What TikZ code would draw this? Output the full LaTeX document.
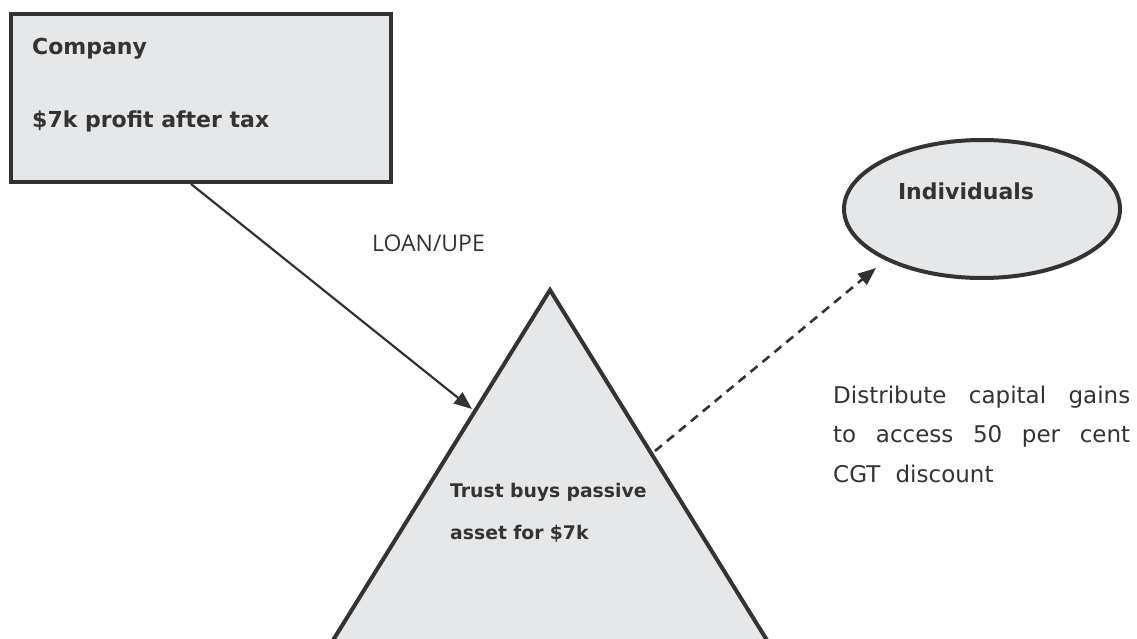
\documentclass[tikz,border=0pt]{standalone}
\usepackage{fontspec}
\setmainfont{DejaVu Sans}
\newfontfamily\loanfont{Open Sans}
\usetikzlibrary{arrows.meta,shapes.geometric}
\definecolor{boxfill}{HTML}{E6E7E8}
\definecolor{ink}{HTML}{333333}
\begin{document}
\begin{tikzpicture}[x=1pt,y=-1pt,
  shapeline/.style={draw=ink,line width=4pt,fill=boxfill,line join=miter},
  boldtext/.style={text=ink,inner sep=0pt,font=\fontsize{22}{26}\selectfont\bfseries},
  trusttext/.style={text=ink,inner sep=0pt,align=left,text width=220pt,font=\fontsize{18.8}{42}\selectfont\bfseries},
  plaintext/.style={text=ink,inner sep=0pt},
  solidarrow/.style={draw=ink,line width=2.2pt,-{Triangle[length=18pt,width=14pt]}},
  dasharrow/.style={draw=ink,line width=2.6pt,dash pattern=on 9pt off 6.5pt,-{Triangle[length=18pt,width=14pt]}}
]
\useasboundingbox (0,0) rectangle (1137,639);
\fill[white] (0,0) rectangle (1137,639);

% Company box
\node[shapeline, rectangle, minimum width=380pt, minimum height=168pt, inner sep=0pt] (company) at (201,98) {};
\node[boldtext, anchor=base west] (comp1) at (32,55) {Company};
\node[boldtext, anchor=base west] (comp2) at (32,128) {\$7k profit after tax};

% Trust triangle
\begin{scope}
\clip (0,0) rectangle (1137,639);
\draw[shapeline] (550,290) -- (804,700) -- (296,700) -- cycle;
\end{scope}
\coordinate (trustin) at (472,409);
\coordinate (trustout) at (655,451);
\node[trusttext, anchor=base west] (trust) at (450,497) {Trust buys passive\\asset for \$7k};

% Individuals ellipse
\node[shapeline, ellipse, minimum width=276pt, minimum height=138pt, inner sep=0pt] (indiv) at (982,209) {};
\node[boldtext, anchor=base] (indivlabel) at (966,200) {Individuals};
\coordinate (indivin) at (876,268);

% Connectors
\draw[solidarrow] ([xshift=182pt]company.south west) -- (trustin);
\draw[dasharrow] (trustout) -- (indivin);

% Labels
\node[plaintext, anchor=base west, font=\loanfont\fontsize{23}{27}\selectfont] (loan) at (372,251) {LOAN/UPE};
\node[plaintext, anchor=base west, align=left, text width=297pt, font=\fontsize{23}{39.5}\selectfont] (dist) at (833,403)
  {\makebox[297pt][l]{Distribute\hfill capital\hfill gains}\\\makebox[297pt][l]{to\hfill access\hfill 50\hfill per\hfill cent}\\CGT\ \ discount};
\end{tikzpicture}
\end{document}
